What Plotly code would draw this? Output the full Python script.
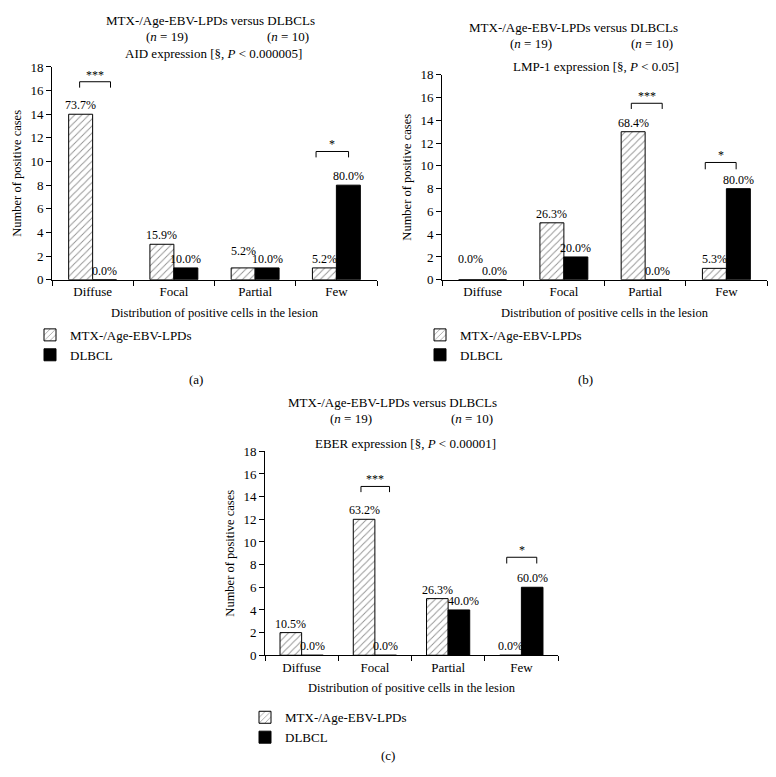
import plotly.graph_objects as go

categories = ["Diffuse", "Focal", "Partial", "Few"]
series_names = ["MTX-/Age-EBV-LPDs", "DLBCL"]

aid_mtx = [14, 3, 1, 1]
aid_dlbcl = [0, 1, 1, 8]
aid_mtx_pct = ["73.7%", "15.9%", "5.2%", "5.2%"]
aid_dlbcl_pct = ["0.0%", "10.0%", "10.0%", "80.0%"]

lmp_mtx = [0, 5, 13, 1]
lmp_dlbcl = [0, 2, 0, 8]
lmp_mtx_pct = ["0.0%", "26.3%", "68.4%", "5.3%"]
lmp_dlbcl_pct = ["0.0%", "20.0%", "0.0%", "80.0%"]

eber_mtx = [2, 12, 5, 0]
eber_dlbcl = [0, 0, 4, 6]
eber_mtx_pct = ["10.5%", "63.2%", "26.3%", "0.0%"]
eber_dlbcl_pct = ["0.0%", "0.0%", "40.0%", "60.0%"]

panel_titles = ["AID expression [§, <i>P</i> < 0.000005]",
                "LMP-1 expression [§, <i>P</i> < 0.05]",
                "EBER expression [§, <i>P</i> < 0.00001]"]
panel_letters = ["(a)", "(b)", "(c)"]
main_title = "MTX-/Age-EBV-LPDs versus DLBCLs"
n_labels = ["(<i>n</i> = 19)", "(<i>n</i> = 10)"]
y_ticks = [0, 2, 4, 6, 8, 10, 12, 14, 16, 18]

# significance brackets: (category index, left, right, line y, leg y, stars)
sig_a = [(0, -0.16, 0.22, 16.75, 16.25, "***"), (3, -0.25, 0.15, 10.85, 10.35, "*")]
sig_b = [(2, -0.17, 0.21, 15.5, 15.0, "***"), (3, -0.26, 0.12, 10.3, 9.7, "*")]
sig_c = [(1, -0.19, 0.20, 14.9, 14.4, "***"), (3, -0.20, 0.21, 8.65, 8.1, "*")]

# page body has an 8px margin: the figure is drawn at (8, 8)
OFF = 8
W, H = 776 - OFF, 777 - OFF
FONT = "Liberation Serif"

def px(x):
    return (x - OFF) / W

def py(y):
    return 1 - (y - OFF) / H

panels = [
    dict(mtx=aid_mtx, dl=aid_dlbcl, mp=aid_mtx_pct, dp=aid_dlbcl_pct, sig=sig_a,
         xd=[px(52), px(377)], yd=[py(278), py(61)],
         title_x=210, title_y=14, n_x=[167, 288], n_y=30, sub_x=213, sub_y=47,
         letter=(196, 380), legend=(30, 319), raise_mtx={2: 8}, xs_dl={}),
    dict(mtx=lmp_mtx, dl=lmp_dlbcl, mp=lmp_mtx_pct, dp=lmp_dlbcl_pct, sig=sig_b,
         xd=[px(442), px(767)], yd=[py(278), py(69)],
         title_x=573, title_y=21, n_x=[531, 652], n_y=37, sub_x=596, sub_y=61,
         letter=(585, 380), legend=(420, 319), raise_mtx={0: 12}, xs_dl={}),
    dict(mtx=eber_mtx, dl=eber_dlbcl, mp=eber_mtx_pct, dp=eber_dlbcl_pct, sig=sig_c,
         xd=[px(265), px(558)], yd=[py(661), py(453)],
         title_x=392, title_y=403, n_x=[351, 472], n_y=420, sub_x=405, sub_y=445,
         letter=(388, 763), legend=(245, 709), raise_mtx={}, xs_dl={2: 5}),
]

fig = go.Figure()
annotations = []
shapes = []
BARGAP = 0.41
off = (1 - BARGAP) / 4

for k, p in enumerate(panels):
    sfx = "" if k == 0 else str(k + 1)
    xref, yref = "x" + sfx, "y" + sfx
    leg = "legend" if k == 0 else "legend" + str(k + 1)
    fig.add_trace(go.Bar(
        x=categories, y=p["mtx"], name=series_names[0], xaxis=xref, yaxis=yref,
        legend=leg,
        marker=dict(color="white", line=dict(color="black", width=1),
                    pattern=dict(shape="/", fgcolor="#222", bgcolor="white",
                                 size=5, solidity=0.18)),
    ))
    fig.add_trace(go.Bar(
        x=categories, y=p["dl"], name=series_names[1], xaxis=xref, yaxis=yref,
        legend=leg,
        marker=dict(color="black", line=dict(color="black", width=1)),
    ))
    # percentage labels
    for i in range(len(categories)):
        annotations.append(dict(x=i - off, y=p["mtx"][i], xref=xref, yref=yref,
                                text=p["mp"][i], showarrow=False, yanchor="middle",
                                yshift=9 + p["raise_mtx"].get(i, 0),
                                font=dict(family=FONT, size=12, color="black")))
        annotations.append(dict(x=i + off, y=p["dl"][i], xref=xref, yref=yref,
                                text=p["dp"][i], showarrow=False, yanchor="middle",
                                yshift=9, xshift=p["xs_dl"].get(i, 0),
                                font=dict(family=FONT, size=12, color="black")))
    # significance brackets
    for (ci, l, r, yl, yleg, stars) in p["sig"]:
        for (x0, y0, x1, y1) in [(ci + l, yleg, ci + l, yl), (ci + l, yl, ci + r, yl),
                                 (ci + r, yl, ci + r, yleg)]:
            shapes.append(dict(type="line", xref=xref, yref=yref, x0=x0, y0=y0,
                               x1=x1, y1=y1, line=dict(color="black", width=1)))
        annotations.append(dict(x=ci + (l + r) / 2, y=yl, xref=xref, yref=yref,
                                text=stars, showarrow=False, yanchor="bottom",
                                yshift=-2, font=dict(family=FONT, size=12, color="black")))
    # titles
    annotations.append(dict(x=px(p["title_x"]), y=py(p["title_y"]), xref="paper", yref="paper",
                            text=main_title, showarrow=False, xanchor="center", yanchor="middle",
                            font=dict(family=FONT, size=13, color="black")))
    for nx, nt in zip(p["n_x"], n_labels):
        annotations.append(dict(x=px(nx), y=py(p["n_y"]), xref="paper", yref="paper",
                                text=nt, showarrow=False, xanchor="center", yanchor="middle",
                                font=dict(family=FONT, size=13, color="black")))
    annotations.append(dict(x=px(p["sub_x"]), y=py(p["sub_y"]), xref="paper", yref="paper",
                            text=panel_titles[k], showarrow=False, xanchor="center",
                            yanchor="middle", font=dict(family=FONT, size=13, color="black")))
    annotations.append(dict(x=px(p["letter"][0]), y=py(p["letter"][1]), xref="paper",
                            yref="paper", text=panel_letters[k], showarrow=False,
                            xanchor="center", yanchor="middle",
                            font=dict(family=FONT, size=13, color="black")))

    axis_common = dict(showline=True, linecolor="black", linewidth=1, ticks="outside",
                       ticklen=5, tickcolor="black", showgrid=False, zeroline=False,
                       tickfont=dict(family=FONT, size=13, color="black"))
    fig.layout["xaxis" + sfx] = dict(
        **axis_common, domain=p["xd"], anchor=yref, type="category",
        categoryorder="array", categoryarray=categories, tickson="boundaries",
        range=[-0.5, 3.5],
        title=dict(text="Distribution of positive cells in the lesion", standoff=9,
                   font=dict(family=FONT, size=12.5, color="black")))
    fig.layout["yaxis" + sfx] = dict(
        **axis_common, domain=p["yd"], anchor=xref, range=[0, 18], tickvals=y_ticks,
        title=dict(text="Number of positive cases", standoff=6,
                   font=dict(family=FONT, size=12.5, color="black")))
    fig.layout[leg] = dict(x=px(p["legend"][0]), y=py(p["legend"][1]), xanchor="left",
                           yanchor="top", bgcolor="rgba(0,0,0,0)",
                           font=dict(family=FONT, size=13, color="black"),
                           tracegroupgap=0, itemwidth=30)

fig.update_layout(
    width=W, height=H, margin=dict(l=0, r=0, t=0, b=0),
    paper_bgcolor="white", plot_bgcolor="white",
    barmode="group", bargap=BARGAP, bargroupgap=0,
    showlegend=True, annotations=annotations, shapes=shapes,
    font=dict(family=FONT, color="black"),
)

fig.write_html("out.html")
